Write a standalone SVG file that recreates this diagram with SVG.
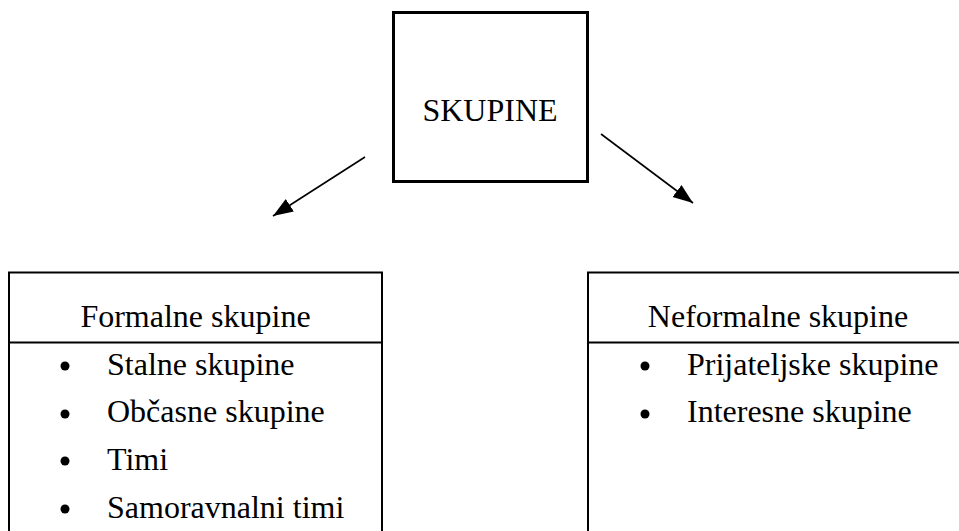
<svg xmlns="http://www.w3.org/2000/svg" width="959" height="531" viewBox="0 0 959 531">
<style>
text{font-family:"Liberation Serif","Times New Roman",serif;font-size:32px;fill:#000}
.box{fill:none;stroke:#000;stroke-width:2}
.mid{text-anchor:middle}
.conn{stroke:#000;stroke-width:1.6;fill:none}
</style>
<defs>
<marker id="ah" markerUnits="userSpaceOnUse" markerWidth="21" markerHeight="16" refX="20" refY="7.5" orient="auto">
<path d="M0,0 L20,7.5 L0,15 Z" fill="#000"/>
</marker>
</defs>
<rect width="959" height="531" fill="#fff"/>
<g id="skupine">
<rect x="393.5" y="12.5" width="194" height="169" fill="none" stroke="#000" stroke-width="3"/>
<text x="490" y="121" class="mid">SKUPINE</text>
</g>
<g id="formalne">
<path class="box" d="M9,531 V272.5 H382 V531 M9,342.5 H382"/>
<text x="195.5" y="327" class="mid">Formalne skupine</text>
<circle cx="65" cy="366" r="4.5"/>
<circle cx="65" cy="414" r="4.5"/>
<circle cx="65" cy="461" r="4.5"/>
<circle cx="65" cy="509" r="4.5"/>
<text x="107" y="375">Stalne skupine</text>
<text x="107" y="422">Občasne skupine</text>
<text x="107" y="470">Timi</text>
<text x="107" y="518">Samoravnalni timi</text>
</g>
<g id="neformalne">
<path class="box" d="M588,531 V272.5 H959 M588,342.5 H959"/>
<text x="778" y="327" class="mid">Neformalne skupine</text>
<circle cx="645" cy="366" r="4.5"/>
<circle cx="645" cy="414" r="4.5"/>
<text x="687" y="375">Prijateljske skupine</text>
<text x="687" y="422">Interesne skupine</text>
</g>
<g id="connectors">
<line class="conn" x1="365" y1="157" x2="273" y2="216" marker-end="url(#ah)"/>
<line class="conn" x1="601" y1="134" x2="693" y2="203" marker-end="url(#ah)"/>
</g>
</svg>
